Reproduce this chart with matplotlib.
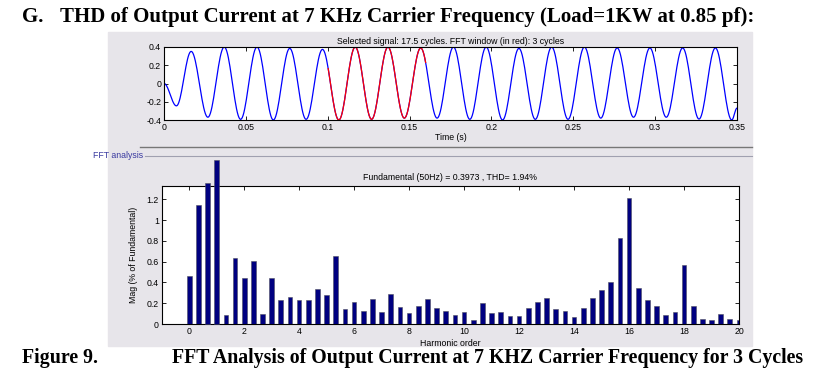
import numpy as np
import matplotlib.pyplot as plt
from matplotlib.patches import Rectangle
from matplotlib.lines import Line2D
from matplotlib.ticker import FormatStrFormatter

# --- Data ---
# waveform: turning points of the output current (time in s, value)
peak_t = [0.0, 0.0076, 0.0166, 0.0268, 0.0368, 0.0468, 0.0568, 0.0668, 0.0768,
          0.0868, 0.0968, 0.1068, 0.1168, 0.1268, 0.1368, 0.1468, 0.1568, 0.1668,
          0.1768, 0.1868, 0.1968, 0.2068, 0.2168, 0.2268, 0.2368, 0.2468, 0.2568,
          0.2668, 0.2768, 0.2868, 0.2968, 0.3068, 0.3168, 0.3268, 0.3368, 0.3468,
          0.35]
peak_v = [0.0, -0.245, 0.352, -0.37, 0.40, -0.393, 0.40, -0.40, 0.385,
          -0.393, 0.374, -0.40, 0.40, -0.393, 0.40, -0.38, 0.39, -0.38,
          0.40, -0.393, 0.40, -0.40, 0.385, -0.393, 0.40, -0.393, 0.40,
          -0.38, 0.39, -0.37, 0.39, -0.37, 0.39, -0.39, 0.39, -0.40,
          -0.27]
fft_window = (0.1, 0.16)

# FFT: bins every 1/3 harmonic (3 cycle window), 0 .. 20
harm_order = [k / 3 for k in range(61)]
mag = [0.46, 1.145, 1.357, 1.578, 0.087, 0.635, 0.443, 0.603, 0.093, 0.443,
       0.228, 0.26, 0.231, 0.231, 0.334, 0.279, 0.654, 0.141, 0.212, 0.122,
       0.241, 0.115, 0.286, 0.164, 0.106, 0.173, 0.241, 0.154, 0.125, 0.083,
       0.115, 0.038, 0.199, 0.103, 0.115, 0.077, 0.077, 0.151, 0.212, 0.247,
       0.141, 0.125, 0.064, 0.154, 0.247, 0.327, 0.401, 0.824, 1.213, 0.343,
       0.228, 0.176, 0.09, 0.112, 0.568, 0.176, 0.048, 0.038, 0.096, 0.048,
       0.04]

W, H = 813, 377
SANS = ['Liberation Sans', 'DejaVu Sans']
SERIF = ['Liberation Serif', 'DejaVu Serif']
FS = 6.3

plt.rcParams['font.family'] = SANS
plt.rcParams['font.size'] = FS


def fx(px):
    return px / W


def fy(py):
    return 1 - py / H


def style_axes(ax):
    ax.set_zorder(5)
    ax.tick_params(direction='in', length=3, width=0.6, labelsize=FS, pad=2,
                   top=True, right=True)
    for s in ax.spines.values():
        s.set_linewidth(0.8)


fig = plt.figure(figsize=(W / 100, H / 100), dpi=100)

# gray GUI panel behind the two plots
fig.patches.append(Rectangle((fx(108), fy(346)), fx(752) - fx(108), fy(32) - fy(346),
                             transform=fig.transFigure, color='#e7e5ea', zorder=-5))
fig.lines.append(Line2D([fx(140), fx(752)], [fy(147), fy(147)], transform=fig.transFigure,
                        color='#777777', lw=1.0, zorder=-4))
fig.lines.append(Line2D([fx(145), fx(752)], [fy(156), fy(156)], transform=fig.transFigure,
                        color='#a0a0b0', lw=0.8, zorder=-4))
fig.text(fx(143), fy(155), 'FFT analysis', ha='right', va='center', fontsize=FS,
         color='#3a3aa0')

# --- signal ---
ax1 = fig.add_axes([fx(164), fy(120), fx(737) - fx(164), fy(47) - fy(120)])
tt, vv = [], []
for i in range(len(peak_t) - 1):
    s = np.linspace(0, 1, 20, endpoint=(i == len(peak_t) - 2))
    tt.append(peak_t[i] + (peak_t[i + 1] - peak_t[i]) * s)
    vv.append((peak_v[i] + peak_v[i + 1]) / 2 + (peak_v[i] - peak_v[i + 1]) / 2 * np.cos(np.pi * s))
tt = np.concatenate(tt)
vv = np.concatenate(vv)
ax1.plot(tt, vv, color='#0000ff', lw=0.9)
win = (tt >= fft_window[0]) & (tt <= fft_window[1])
ax1.plot(tt[win], vv[win], color='#ff0000', lw=0.9)
ax1.set_xlim(0, 0.35)
ax1.set_ylim(-0.4, 0.4)
ax1.set_xticks(np.arange(0, 0.351, 0.05))
ax1.set_yticks([-0.4, -0.2, 0, 0.2, 0.4])
ax1.xaxis.set_major_formatter(FormatStrFormatter('%g'))
ax1.yaxis.set_major_formatter(FormatStrFormatter('%g'))
style_axes(ax1)
ax1.set_xlabel('Time (s)', fontsize=FS, labelpad=1)
ax1.set_title('Selected signal: 17.5 cycles. FFT window (in red): 3 cycles',
              fontsize=FS, pad=2)

# --- spectrum ---
ax2 = fig.add_axes([fx(161.7), fy(324), fx(739) - fx(161.7), fy(186) - fy(324)])
bars = ax2.bar(harm_order, mag, width=0.17, color='#000080', edgecolor='#505060',
               linewidth=0.4, zorder=3)
ax2.set_xlim(-1, 20)
ax2.set_ylim(0, 1.328)
for b in bars:
    if b.get_height() > 1.328:
        b.set_clip_on(False)
ax2.set_xticks(range(0, 21, 2))
ax2.set_yticks([0, 0.2, 0.4, 0.6, 0.8, 1.0, 1.2])
ax2.yaxis.set_major_formatter(FormatStrFormatter('%g'))
style_axes(ax2)
ax2.set_xlabel('Harmonic order', fontsize=FS, labelpad=2)
ax2.set_ylabel('Mag (% of Fundamental)', fontsize=FS, labelpad=6)
ax2.set_title('Fundamental (50Hz) = 0.3973 , THD= 1.94%', fontsize=FS, pad=4)

# --- document heading and caption ---
fig.text(fx(22), fy(17), 'G.', fontsize=15, fontweight='bold', family=SERIF, va='center')
fig.text(fx(60), fy(17), 'THD of Output Current at 7 KHz Carrier Frequency (Load=1KW at 0.85 pf):',
         fontsize=15, fontweight='bold', family=SERIF, va='center')
fig.text(fx(22), fy(358), 'Figure 9.', fontsize=14.3, fontweight='bold', family=SERIF, va='center')
fig.text(fx(172), fy(358), 'FFT Analysis of Output Current at 7 KHZ Carrier Frequency for 3 Cycles',
         fontsize=14.3, fontweight='bold', family=SERIF, va='center')

fig.savefig('out.png', dpi=100, facecolor='white')
